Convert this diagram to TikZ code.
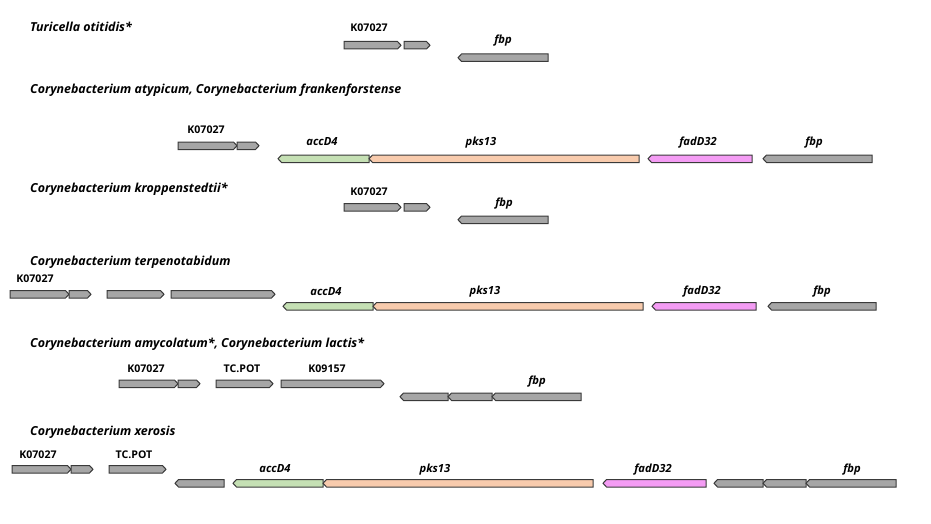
\documentclass[tikz,border=0pt]{standalone}
\usepackage{fontspec}
\setmainfont{Open Sans}
\definecolor{gfill}{HTML}{A6A6A6}
\definecolor{gline}{HTML}{3A3A3A}
\definecolor{greenf}{HTML}{C5E0B4}
\definecolor{orangef}{HTML}{F8CBAD}
\definecolor{pinkf}{HTML}{F49CF4}
\tikzset{
  gene/.style={draw=gline,line width=1pt,line join=miter},
  title/.style={anchor=base west,inner sep=0pt,font=\fontsize{12.4}{14}\selectfont\bfseries\itshape},
  klabel/.style={anchor=base,inner sep=0pt,font=\fontsize{10.6}{12}\selectfont\bfseries},
  glabel/.style={anchor=base,inner sep=0pt,font=\fontsize{11.2}{13}\selectfont\bfseries\itshape},
}
% right-pointing gene: x1, x2, ytop, fill
\newcommand{\geneR}[4]{\draw[gene,fill=#4] (#1,#3) -- ({#2-3.5},#3) -- (#2,{#3+3.75}) -- ({#2-3.5},{#3+7.5}) -- (#1,{#3+7.5}) -- cycle;}
% left-pointing gene: x1 (tip), x2, ytop, fill
\newcommand{\geneL}[4]{\draw[gene,fill=#4] (#2,#3) -- ({#1+3.5},#3) -- (#1,{#3+3.75}) -- ({#1+3.5},{#3+7.5}) -- (#2,{#3+7.5}) -- cycle;}
\begin{document}
\begin{tikzpicture}[x=1pt,y=-1pt]
\useasboundingbox (0,0) rectangle (931,524);
% ---------- Row 1
\node[title] (t1) at (30,32) {Turicella otitidis*};
\node[klabel] (r1k) at (369,32) {K07027};
\node[glabel] (r1f) at (503,44) {fbp};
\geneR{344}{401}{41.5}{gfill}
\geneR{404}{430}{41.5}{gfill}
\geneL{458}{548}{54}{gfill}
% ---------- Row 2
\node[title] (t2) at (30,94) {Corynebacterium atypicum, Corynebacterium frankenforstense};
\node[klabel] (r2k) at (206,133) {K07027};
\node[glabel] (r2a) at (322,146) {accD4};
\node[glabel] (r2p) at (481,146) {pks13};
\node[glabel] (r2d) at (698,146) {fadD32};
\node[glabel] (r2f) at (814,146) {fbp};
\geneR{178}{237}{142}{gfill}
\geneR{237}{259}{142}{gfill}
\geneL{278}{369}{155}{greenf}
\geneL{369}{639}{155}{orangef}
\geneL{648}{752}{155}{pinkf}
\geneL{763}{872}{155}{gfill}
% ---------- Row 3
\node[title] (t3) at (30,192) {Corynebacterium kroppenstedtii*};
\node[klabel] (r3k) at (369,195) {K07027};
\node[glabel] (r3f) at (504,206) {fbp};
\geneR{344}{401}{203.5}{gfill}
\geneR{404}{430}{203.5}{gfill}
\geneL{458}{548}{216}{gfill}
% ---------- Row 4
\node[title] (t4) at (30,265) {Corynebacterium terpenotabidum};
\node[klabel] (r4k) at (35,282) {K07027};
\node[glabel] (r4a) at (326,295) {accD4};
\node[glabel] (r4p) at (485,294) {pks13};
\node[glabel] (r4d) at (702,294) {fadD32};
\node[glabel] (r4f) at (822,294) {fbp};
\geneR{10}{69}{290.5}{gfill}
\geneR{69}{91}{290.5}{gfill}
\geneR{107}{164}{290.5}{gfill}
\geneR{171}{275}{290.5}{gfill}
\geneL{283}{373}{302.5}{greenf}
\geneL{373}{643}{302.5}{orangef}
\geneL{652}{756}{302.5}{pinkf}
\geneL{768}{876}{302.5}{gfill}
% ---------- Row 5
\node[title] (t5) at (30,347) {Corynebacterium amycolatum*, Corynebacterium lactis*};
\node[klabel] (r5k) at (146,372) {K07027};
\node[klabel] (r5t) at (242,372) {TC.POT};
\node[klabel] (r5n) at (327,372) {K09157};
\node[glabel] (r5f) at (537,384) {fbp};
\geneR{119}{178}{380}{gfill}
\geneR{178}{200}{380}{gfill}
\geneR{216}{273}{380}{gfill}
\geneR{281}{384}{380}{gfill}
\geneL{400}{448}{393}{gfill}
\geneL{448}{492}{393}{gfill}
\geneL{492}{581}{393}{gfill}
% ---------- Row 6
\node[title] (t6) at (30,435) {Corynebacterium xerosis};
\node[klabel] (r6k) at (38,458) {K07027};
\node[klabel] (r6t) at (134,458) {TC.POT};
\node[glabel] (r6a) at (275,472) {accD4};
\node[glabel] (r6p) at (435,472) {pks13};
\node[glabel] (r6d) at (653,472) {fadD32};
\node[glabel] (r6f) at (852,472) {fbp};
\geneR{12}{71}{465.5}{gfill}
\geneR{71}{93}{465.5}{gfill}
\geneR{109}{166}{465.5}{gfill}
\geneL{175}{224}{479.5}{gfill}
\geneL{233}{323}{479.5}{greenf}
\geneL{323}{593}{479.5}{orangef}
\geneL{603}{706}{479.5}{pinkf}
\geneL{714}{763}{479.5}{gfill}
\geneL{763}{806}{479.5}{gfill}
\geneL{806}{896}{479.5}{gfill}
\end{tikzpicture}
\end{document}
